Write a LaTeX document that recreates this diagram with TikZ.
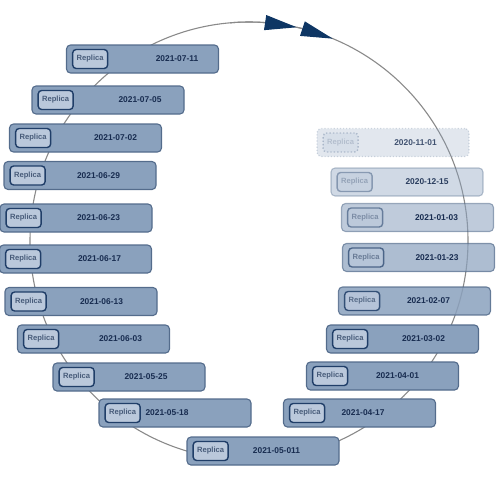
\documentclass[tikz,border=0pt]{standalone}
\usepackage{fontspec}
\setsansfont{Liberation Sans}
\usetikzlibrary{arrows.meta, bending}
\definecolor{snapfill}{RGB}{138,161,189}
\definecolor{snapline}{RGB}{84,108,140}
\definecolor{badgefill}{RGB}{186,200,219}
\definecolor{badgeline}{RGB}{32,62,104}
\definecolor{badgetext}{RGB}{72,92,122}
\definecolor{datetext}{RGB}{24,44,80}
\definecolor{ringgray}{RGB}{138,138,138}
\definecolor{arrowblue}{RGB}{14,54,100}
\tikzset{
  snap box/.style={
    rectangle, rounded corners=4pt, draw=snapline, fill=snapfill,
    line width=1.1pt, minimum width=152pt, minimum height=28pt,
    inner sep=0pt
  },
  snap badge/.style={
    rectangle, rounded corners=3.5pt, draw=badgeline, fill=badgefill,
    line width=1.4pt, minimum width=35pt, minimum height=19pt,
    inner sep=0pt, anchor=west, text=badgetext,
    font=\sffamily\bfseries\fontsize{7.6}{9}\selectfont
  },
  snap date/.style={
    text=datetext, inner sep=0pt,
    font=\sffamily\bfseries\fontsize{8.4}{10}\selectfont
  },
  ring/.style={
    draw=ringgray, line width=1.1pt
  },
  ring arrow/.style={
    ring, -{Triangle[length=32pt, width=15pt, color=arrowblue, flex]}
  }
}

\begin{document}
\begin{tikzpicture}[x=1pt, y=-1pt]
  \useasboundingbox (0,0) rectangle (500,483);
  \coordinate (c) at (249,241);

  % retention ring
  \draw [ring] (c) circle [radius=219pt];
  \draw [ring arrow] (c) ++(-95:219) arc [start angle=-95, end angle=-77.4, radius=219];
  \draw [ring arrow] (c) ++(-77.4:219) arc [start angle=-77.4, end angle=-67.5, radius=219];

  % left side, newest first
  \node (b1) [snap box] at (142.5,59) {};
  \node (r1) [snap badge] at ([xshift=6pt]b1.west) {Replica};
  \node (d1) [snap date] at (177,59) {2021-07-11};

  \node (b2) [snap box] at (108,100) {};
  \node (r2) [snap badge] at ([xshift=6pt]b2.west) {Replica};
  \node (d2) [snap date] at (140,100) {2021-07-05};

  \node (b3) [snap box] at (85.5,138) {};
  \node (r3) [snap badge] at ([xshift=6pt]b3.west) {Replica};
  \node (d3) [snap date] at (115.5,138) {2021-07-02};

  \node (b4) [snap box] at (80,175.5) {};
  \node (r4) [snap badge] at ([xshift=6pt]b4.west) {Replica};
  \node (d4) [snap date] at (98.5,175.5) {2021-06-29};

  \node (b5) [snap box] at (76,218) {};
  \node (r5) [snap badge] at ([xshift=6pt]b5.west) {Replica};
  \node (d5) [snap date] at (98.5,218) {2021-06-23};

  \node (b6) [snap box] at (75.5,259) {};
  \node (r6) [snap badge] at ([xshift=6pt]b6.west) {Replica};
  \node (d6) [snap date] at (99.5,259) {2021-06-17};

  \node (b7) [snap box] at (81,301.5) {};
  \node (r7) [snap badge] at ([xshift=6pt]b7.west) {Replica};
  \node (d7) [snap date] at (101.5,301.5) {2021-06-13};

  \node (b8) [snap box] at (93.5,339) {};
  \node (r8) [snap badge] at ([xshift=6pt]b8.west) {Replica};
  \node (d8) [snap date] at (120.5,339) {2021-06-03};

  \node (b9) [snap box] at (129,377) {};
  \node (r9) [snap badge] at ([xshift=6pt]b9.west) {Replica};
  \node (d9) [snap date] at (146,377) {2021-05-25};

  \node (b10) [snap box] at (175,413) {};
  \node (r10) [snap badge] at ([xshift=6pt]b10.west) {Replica};
  \node (d10) [snap date] at (167,413) {2021-05-18};

  \node (b11) [snap box] at (263,451) {};
  \node (r11) [snap badge] at ([xshift=6pt]b11.west) {Replica};
  \node (d11) [snap date] at (276.5,451) {2021-05-011};

  % right side, fading towards the oldest
  \node (b12) [snap box] at (359.5,413) {};
  \node (r12) [snap badge] at ([xshift=6pt]b12.west) {Replica};
  \node (d12) [snap date] at (363,413) {2021-04-17};

  \node (b13) [snap box] at (382.5,376) {};
  \node (r13) [snap badge] at ([xshift=6pt]b13.west) {Replica};
  \node (d13) [snap date] at (397.5,376) {2021-04-01};

  \node (b14) [snap box] at (402.5,339) {};
  \node (r14) [snap badge] at ([xshift=6pt]b14.west) {Replica};
  \node (d14) [snap date] at (423.5,339) {2021-03-02};

  \node (b15) [snap box, opacity=0.85] at (414.5,301) {};
  \node (r15) [snap badge, opacity=0.85] at ([xshift=6pt]b15.west) {Replica};
  \node (d15) [snap date] at (428.5,301) {2021-02-07};

  \node (b16) [snap box, opacity=0.7] at (418.5,257.5) {};
  \node (r16) [snap badge, opacity=0.7] at ([xshift=6pt]b16.west) {Replica};
  \node (d16) [snap date] at (437,257.5) {2021-01-23};

  \node (b17) [snap box, opacity=0.55] at (417.5,217.5) {};
  \node (r17) [snap badge, opacity=0.55] at ([xshift=6pt]b17.west) {Replica};
  \node (d17) [snap date] at (436.5,217.5) {2021-01-03};

  \node (b18) [snap box, opacity=0.4] at (407,182) {};
  \node (r18) [snap badge, opacity=0.4] at ([xshift=6pt]b18.west) {Replica};
  \node (d18) [snap date, text opacity=0.9] at (427,182) {2020-12-15};

  \node (b19) [snap box, opacity=0.25, dotted] at (393,142.5) {};
  \node (r19) [snap badge, opacity=0.25, dotted] at ([xshift=6pt]b19.west) {Replica};
  \node (d19) [snap date, text opacity=0.8] at (415.5,142.5) {2020-11-01};
\end{tikzpicture}
\end{document}
